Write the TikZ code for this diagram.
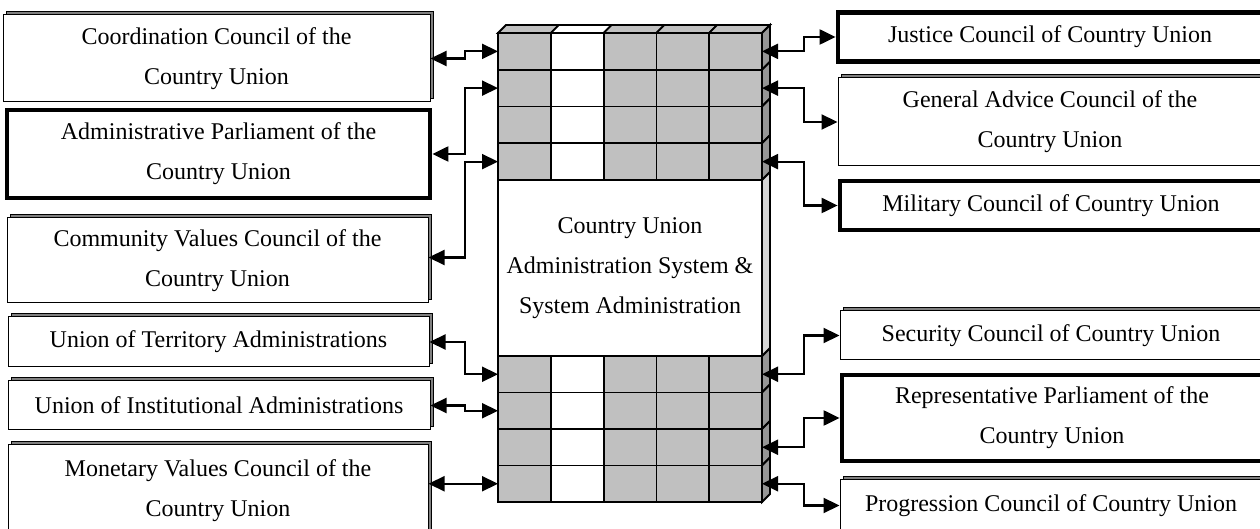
\documentclass[tikz,border=0pt]{standalone}
\usepackage{fontspec}
\setmainfont{Liberation Serif}
\usetikzlibrary{arrows.meta,shadows}
\definecolor{cellgray}{RGB}{192,192,192}
\definecolor{sidegray}{RGB}{150,150,150}
\definecolor{lightside}{RGB}{212,212,212}
\definecolor{bevelgray}{RGB}{128,128,128}
\begin{document}
\begin{tikzpicture}[x=0.5pt,y=-0.5pt,
  txt/.style={font=\fontsize{12}{20}\selectfont, align=center},
  thinbox/.style={txt, draw, line width=0.5pt, fill=white, inner sep=0pt,
    general shadow={shadow xshift=1.7pt, shadow yshift=1.7pt, fill=bevelgray, draw=black, line width=0.5pt}},
  thickbox/.style={txt, draw, line width=2.4pt, fill=white, inner sep=0pt},
  cell/.style={draw, line width=0.9pt, minimum width=26.4pt, minimum height=18.375pt, inner sep=0pt, outer sep=0pt, anchor=north west},
  face/.style={draw, line width=0.9pt},
  link/.style={line width=1.1pt, {Triangle[length=8pt,width=7.5pt]}-{Triangle[length=8pt,width=7.5pt]}}
]
\useasboundingbox (0,0) rectangle (1260,529);
\clip (0,0) rectangle (1260,529);

% left boxes
\node[thinbox, minimum width=213.5pt, minimum height=43.5pt] (L1) at (216.5,58.5) {Coordination Council of the\\Country Union};
\node[thickbox, minimum width=211.5pt, minimum height=44pt] (L2) at (218.5,154) {Administrative Parliament of the\\Country Union};
\node[thinbox, minimum width=210.5pt, minimum height=42.5pt] (L3) at (217.5,260.5) {Community Values Council of the\\Country Union};
\node[thinbox, minimum width=210.5pt, minimum height=25pt] (L4) at (218.5,342) {Union of Territory Administrations};
\node[thinbox, minimum width=211pt, minimum height=24.5pt] (L5) at (219,405.5) {Union of Institutional Administrations};
\node[thinbox, minimum width=210pt, minimum height=46pt] (L6) at (218,491) {Monetary Values Council of the\\Country Union};

% right boxes
\node[thickbox, minimum width=212pt, minimum height=24.5pt] (R1) at (1050,37) {Justice Council of Country Union};
\node[thinbox, minimum width=212pt, minimum height=44pt] (R2) at (1050,122) {General Advice Council of the\\Country Union};
\node[thickbox, minimum width=211pt, minimum height=24.5pt] (R3) at (1051,205.5) {Military Council of Country Union};
\node[thinbox, minimum width=211pt, minimum height=24.5pt] (R4) at (1051,335.5) {Security Council of Country Union};
\node[thickbox, minimum width=210pt, minimum height=43pt] (R5) at (1052,418) {Representative Parliament of the\\Country Union};
\node[thinbox, minimum width=211pt, minimum height=25.5pt] (R6) at (1051,505.5) {Progression Council of Country Union};

% central block: top face
\foreach \c/\col in {1/cellgray,2/white,3/cellgray,4/cellgray,5/cellgray}{
  \filldraw[face, fill=\col] ({498+52.8*(\c-1)},33) -- ++(8,-8) -- ++(52.8,0) -- ++(-8,8) -- cycle;
}
% upper grid
\foreach \r in {1,...,4}{
  \foreach \c/\col in {1/cellgray,2/white,3/cellgray,4/cellgray,5/cellgray}{
    \node[cell, fill=\col] (c-\r-\c) at ({498+52.8*(\c-1)},{33+36.75*(\r-1)}) {};
  }
  \filldraw[face, fill=sidegray] (762,{33+36.75*(\r-1)}) -- ++(8,-8) -- ++(0,36.75) -- ++(-8,8) -- cycle;
}
% lower grid
\foreach \r in {5,...,8}{
  \foreach \c/\col in {1/cellgray,2/white,3/cellgray,4/cellgray,5/cellgray}{
    \node[cell, fill=\col, minimum height=18.25pt] (c-\r-\c) at ({498+52.8*(\c-1)},{356+36.5*(\r-5)}) {};
  }
  \filldraw[face, fill=sidegray] (762,{356+36.5*(\r-5)}) -- ++(8,-8) -- ++(0,36.5) -- ++(-8,8) -- cycle;
}
% middle section
\node[draw, line width=0.9pt, fill=white, minimum width=132pt, minimum height=88pt, inner sep=0pt, outer sep=0pt, txt] (core) at (630,268) {Country Union\\Administration System \&\\System Administration};
\filldraw[face, fill=lightside] (762,180) -- (770,172) -- (770,348) -- (762,356) -- cycle;

% connector columns
\coordinate (ml) at (465,0);
\coordinate (mr) at (804,0);

% left connectors
\draw[link] (L1.east) -| (ml |- c-1-1.west) -- (c-1-1.west);
\draw[link] (L2.east) -| (ml |- c-2-1.west) -- (c-2-1.west);
\draw[link] ([yshift=1.5pt]L3.east) -| (ml |- c-4-1.west) -- (c-4-1.west);
\draw[link] (L4.east) -| (ml |- c-5-1.west) -- (c-5-1.west);
\draw[link] (L5.east) -| (ml |- c-6-1.west) -- (c-6-1.west);
\draw[link] (L6.east |- c-8-1.west) -- (c-8-1.west);

% right connectors
\draw[link] (c-1-5.east) -| (mr |- R1.west) -- (R1.west);
\draw[link] (c-2-5.east) -| (mr |- R2.west) -- (R2.west);
\draw[link] (c-4-5.east) -| (mr |- R3.west) -- (R3.west);
\draw[link] (c-5-5.east) -| (mr |- R4.west) -- (R4.west);
\draw[link] (c-7-5.east) -| (mr |- R5.west) -- (R5.west);
\draw[link] (c-8-5.east) -| (mr |- R6.west) -- (R6.west);
\end{tikzpicture}
\end{document}
